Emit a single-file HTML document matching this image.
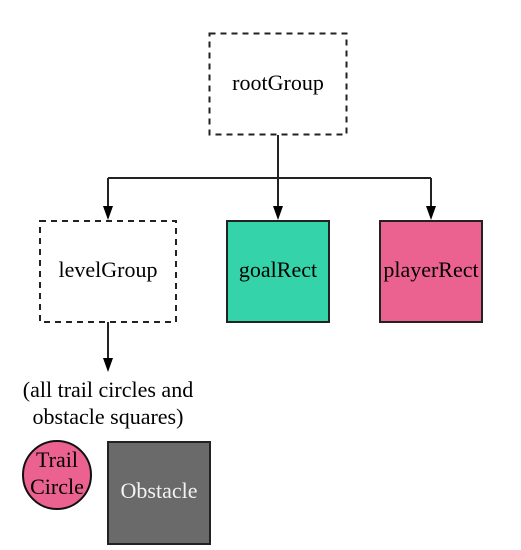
<!DOCTYPE html>
<html><head><meta charset="utf-8"><style>
html,body{margin:0;padding:0;background:#fff;width:521px;height:550px;overflow:hidden}
text{font-family:"Liberation Serif",serif;}
</style></head><body>
<svg width="521" height="550" viewBox="0 0 521 550" xmlns="http://www.w3.org/2000/svg">
<rect x="209.5" y="33.5" width="137" height="101" fill="#fff" stroke="#222" stroke-width="2" stroke-dasharray="6,5"/>
<text x="278" y="90" font-size="22" text-anchor="middle">rootGroup</text>
<g stroke="#222" stroke-width="2" fill="none">
<path d="M278,135 V178"/>
<path d="M108,178 H431"/>
</g>
<g fill="#000">
<path d="M108,178 V208" stroke="#222" stroke-width="2"/><path d="M103,206 L113,206 L108,220 Z"/>
<path d="M278,178 V208" stroke="#222" stroke-width="2"/><path d="M273,206 L283,206 L278,220 Z"/>
<path d="M431,178 V208" stroke="#222" stroke-width="2"/><path d="M426,206 L436,206 L431,220 Z"/>
<path d="M108,322 V360" stroke="#222" stroke-width="2"/><path d="M103,358 L113,358 L108,372 Z"/>
</g>
<rect x="40" y="221" width="136" height="101" fill="#fff" stroke="#222" stroke-width="2" stroke-dasharray="6,5"/>
<text x="108" y="277" font-size="22" text-anchor="middle">levelGroup</text>
<rect x="227" y="221" width="102" height="101" fill="#34d3a9" stroke="#222" stroke-width="2"/>
<text x="278" y="277" font-size="22" text-anchor="middle">goalRect</text>
<rect x="380" y="221" width="102" height="101" fill="#eb6290" stroke="#222" stroke-width="2"/>
<text x="431" y="277" font-size="22" text-anchor="middle">playerRect</text>
<text x="108" y="397" font-size="22" text-anchor="middle">(all trail circles and</text>
<text x="108" y="424" font-size="22" text-anchor="middle">obstacle squares)</text>
<circle cx="57" cy="475" r="34" fill="#eb6290" stroke="#111" stroke-width="2"/>
<text x="57" y="467" font-size="22" text-anchor="middle">Trail</text>
<text x="57" y="494" font-size="22" text-anchor="middle">Circle</text>
<rect x="108" y="442" width="102" height="102" fill="#6a6a6a" stroke="#222" stroke-width="2"/>
<text x="159" y="498" font-size="22" text-anchor="middle" fill="#f2f2f2">Obstacle</text>
</svg>
</body></html>
